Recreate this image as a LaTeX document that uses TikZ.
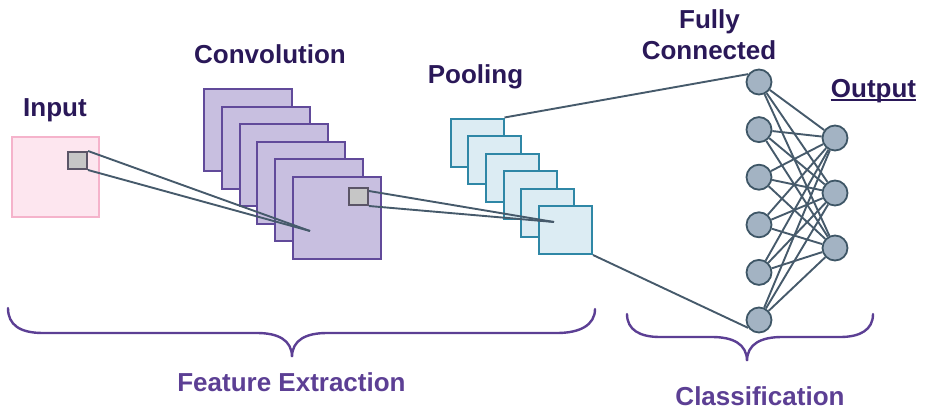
\documentclass[tikz,border=0pt]{standalone}
\usepackage{fontspec}
\setmainfont{Liberation Sans}
\definecolor{headc}{HTML}{2A1858}
\definecolor{bracec}{HTML}{5C3F94}
\definecolor{convfill}{HTML}{C8BFE0}
\definecolor{convline}{HTML}{614A9A}
\definecolor{infill}{HTML}{FDE6EF}
\definecolor{inline}{HTML}{F5B3CB}
\definecolor{greyfill}{HTML}{C6C6C6}
\definecolor{greyline}{HTML}{5B5567}
\definecolor{poolfill}{HTML}{DCECF3}
\definecolor{poolline}{HTML}{2F87A6}
\definecolor{connc}{HTML}{465A6B}
\definecolor{neufill}{HTML}{A3B3C3}
\definecolor{neuline}{HTML}{3E5666}
\begin{document}
\begin{tikzpicture}[x=1pt,y=-1pt,
  lbl/.style={font=\bfseries\fontsize{26}{30}\selectfont, text=headc, inner sep=0pt, anchor=base},
  blbl/.style={font=\bfseries\fontsize{26}{30}\selectfont, text=bracec, inner sep=0pt, anchor=base},
  inbox/.style={draw=inline, fill=infill, line width=2pt, minimum width=87pt, minimum height=80pt, inner sep=0pt},
  convsq/.style={draw=convline, fill=convfill, line width=2pt, minimum width=88pt, minimum height=82pt, inner sep=0pt},
  poolsq/.style={draw=poolline, fill=poolfill, line width=2pt, minimum width=53pt, minimum height=48pt, inner sep=0pt},
  kern/.style={draw=greyline, fill=greyfill, line width=2pt, minimum width=19pt, minimum height=17pt, inner sep=0pt},
  conn/.style={draw=connc, line width=1.9pt},
  neuron/.style={circle, draw=neuline, fill=neufill, line width=1.8pt, minimum size=25pt, inner sep=0pt},
  bracel/.style={draw=bracec, line width=2.4pt, line cap=round}]
\useasboundingbox (0,0) rectangle (926,410);

% labels
\node[lbl] (linput) at (55,116) {Input};
\node[lbl] (lconv) at (270,63) {Convolution};
\node[lbl] (lpool) at (475.5,83) {Pooling};
\node[lbl] (lfc1) at (709.5,28) {Fully};
\node[lbl] (lfc2) at (709,59) {Connected};
\node[lbl] (lout) at (873.5,97) {Output};
\draw[draw=headc, line width=2pt] ([yshift=-2.5pt]lout.base west) -- ([yshift=-2.5pt]lout.base east);
\node[blbl] (lfeat) at (291.5,391) {Feature Extraction};
\node[blbl] (lclass) at (760,405) {Classification};

% input
\node[inbox] (in) at (55.5,177) {};
\node[kern] (g1) at (77.5,160.5) {};

% convolution stack
\foreach \i in {1,...,6}
  \node[convsq] (c\i) at ({248+17.8*(\i-1)},{130+17.6*(\i-1)}) {};
\node[kern] (g2) at (358.5,196.5) {};

% pooling stack
\foreach \i in {1,...,6}
  \node[poolsq] (p\i) at ({477+17.7*(\i-1)},{142.5+17.5*(\i-1)}) {};

% receptive-field lines
\coordinate (t1) at (310,231);
\coordinate (t2) at (554,222);
\draw[conn] (g1.north east) -- (t1);
\draw[conn] (g1.south east) -- (t1);
\draw[conn] ([yshift=-4pt]g2.north east) -- (t2);
\draw[conn] (g2.south east) -- (t2);

% fully connected layer
\foreach \i in {1,...,6}
  \node[neuron] (f\i) at (759,{82+47.6*(\i-1)}) {};
\node[neuron] (o1) at (835,138) {};
\node[neuron] (o2) at (835,193) {};
\node[neuron] (o3) at (835,248) {};
\foreach \i in {1,...,6}
  \foreach \j in {1,2,3}
    \draw[conn] (f\i) -- (o\j);

\draw[conn] (p1.north east) -- (f1.144);
\draw[conn] (p6.south east) -- (f6.216);

% braces
\draw[bracel] (8,308) .. controls (8,325) and (20,333) .. (43,333)
  -- (257,333) .. controls (278,333) and (292,340) .. (292,357)
  .. controls (292,340) and (306,333) .. (327,333)
  -- (557,333) .. controls (580,333) and (595,325) .. (595,309);
\draw[bracel] (627,314) .. controls (627,330) and (640,337) .. (660,337)
  -- (712,337) .. controls (733,337) and (747,344) .. (747,361)
  .. controls (747,344) and (761,337) .. (782,337)
  -- (840,337) .. controls (860,337) and (873,330) .. (873,314);
\end{tikzpicture}
\end{document}
